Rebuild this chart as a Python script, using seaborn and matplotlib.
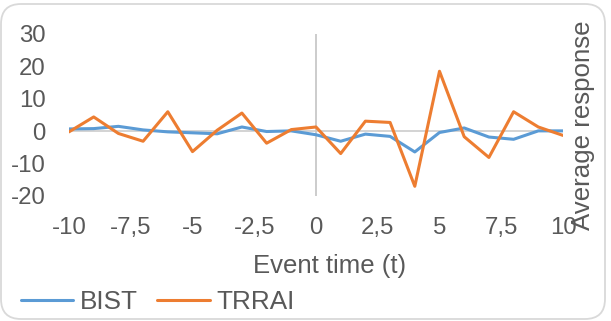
import numpy as np
import pandas as pd
import matplotlib
matplotlib.use("Agg")
import matplotlib.pyplot as plt
import seaborn as sns
from matplotlib.patches import FancyBboxPatch
from matplotlib.transforms import IdentityTransform
from matplotlib.ticker import FuncFormatter

# Event window and average responses
event_time = list(range(-10, 11))
bist = [0.7, 0.8, 1.5, 0.4, -0.2, -0.5, -0.8, 1.3, -0.1, 0.1, -1.1,
        -3.1, -0.9, -1.6, -6.4, -0.4, 1.0, -1.8, -2.5, 0.1, 0.1]
trrai = [-0.2, 4.4, -0.7, -3.1, 6.0, -6.3, 0.3, 5.6, -3.7, 0.5, 1.3,
         -6.9, 3.1, 2.7, -17.0, 18.5, -1.7, -8.1, 6.0, 1.3, -1.3]
series_names = ["BIST", "TRRAI"]
x_ticks = [-10, -7.5, -5, -2.5, 0, 2.5, 5, 7.5, 10]
y_ticks = [-20, -10, 0, 10, 20, 30]

df = pd.DataFrame({
    "t": event_time * 2,
    "value": bist + trrai,
    "series": [series_names[0]] * len(bist) + [series_names[1]] * len(trrai),
})

sns.set_theme(style="white")
plt.rcParams["font.family"] = ["Liberation Sans", "DejaVu Sans"]
plt.rcParams["axes.unicode_minus"] = False

text_color = "#595959"
palette = {"BIST": "#5B9BD5", "TRRAI": "#ED7D31"}

W, H = 611, 321
fig = plt.figure(figsize=(W / 100, H / 100), dpi=100)
ax = fig.add_axes([69 / W, 1 - 196 / H, (563 - 69) / W, (196 - 34) / H])

# axis lines crossing at zero
ax.axvline(0, color="#BFBFBF", lw=1.1, zorder=1)
ax.axhline(0, color="#C8C8C8", lw=1.1, zorder=1)

sns.lineplot(data=df, x="t", y="value", hue="series", hue_order=series_names,
             palette=palette, linewidth=2.2, legend=False, ax=ax, zorder=3)

ax.set_xlim(-10, 10)
ax.set_ylim(-20, 30)
ax.set_xticks(x_ticks)
ax.set_yticks(y_ticks)
ax.xaxis.set_major_formatter(FuncFormatter(lambda v, p: f"{v:g}".replace(".", ",")))
ax.yaxis.set_major_formatter(FuncFormatter(lambda v, p: f"{v:g}"))
ax.tick_params(axis="both", length=0, labelsize=17.3, labelcolor=text_color)
ax.tick_params(axis="x", pad=15)
ax.tick_params(axis="y", pad=17)
for s in ax.spines.values():
    s.set_visible(False)
ax.set_xlabel("")
ax.set_ylabel("")
ax.patch.set_alpha(0)

fig.text(330 / W, 1 - 273 / H, "Event time (t)", ha="center", va="baseline",
         fontsize=18.5, color=text_color)
fig.text(583 / W, 1 - 125 / H, "Average response", ha="center", va="center",
         rotation=90, fontsize=18.6, color=text_color)

fig.legend(handles=ax.lines[2:4], labels=series_names, loc="center left",
           bbox_to_anchor=(21 / W, 1 - 302 / H), ncol=2, frameon=False,
           fontsize=18.8, labelcolor=text_color, handlelength=2.0,
           handletextpad=0.25, columnspacing=0.75, borderpad=0, borderaxespad=0)

# rounded chart border
fig.patches.append(FancyBboxPatch((1, 2), 604, 315, boxstyle="round,pad=0,rounding_size=20",
                                  transform=IdentityTransform(), fill=False,
                                  edgecolor="#D9D9D9", linewidth=1.3))

fig.savefig("out.png", dpi=100)
